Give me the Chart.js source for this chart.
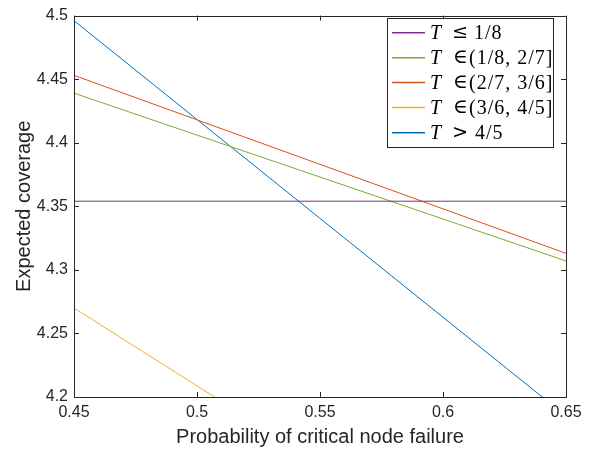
<!DOCTYPE html>
<html>
<head>
<meta charset="utf-8">
<script src="https://cdn.jsdelivr.net/npm/chart.js@4"></script>
<style>
  html,body{margin:0;padding:0;background:#fff;}
  #wrap{width:595px;height:450px;position:relative;}
</style>
</head>
<body>
<div id="wrap"><canvas id="c" width="595" height="450"></canvas></div>
<script>
// data
const xValues = [0.45, 0.65];
const seriesLabels = ['T ≤ 1/8', 'T ∈ (1/8, 2/7]', 'T ∈ (2/7, 3/6]', 'T ∈ (3/6, 4/5]', 'T > 4/5'];
const series1 = [4.354, 4.354];
const series2 = [4.439, 4.307];
const series3 = [4.453, 4.313];
const series4 = [4.270, 4.025];
const series5 = [4.496, 4.185];
const xTicks = [0.45, 0.5, 0.55, 0.6, 0.65];
const yTicks = [4.2, 4.25, 4.3, 4.35, 4.4, 4.45, 4.5];

const colors = ['#7E2F8E', '#77AC30', '#D95319', '#EDB120', '#0072BD'];
const allSeries = [series1, series2, series3, series4, series5];
const ink = '#262626';
const sans = '"Liberation Sans", Arial, Helvetica, sans-serif';
const serif = '"Liberation Serif", "Times New Roman", serif';

const datasets = allSeries.map((s,i)=>({
  label: seriesLabels[i],
  data: s.map((v,j)=>({x:xValues[j], y:v})),
  borderColor: colors[i],
  borderWidth: 1,
  pointRadius: 0,
  fill: false,
  tension: 0
}));

// draw text so its ink starts at x
function inkText(ctx, txt, x, y){
  const m=ctx.measureText(txt);
  ctx.fillText(txt, x + m.actualBoundingBoxLeft, y);
}

// relation symbol sized to a given ink width, centred on cx
function relText(ctx, txt, cx, y, inkW){
  ctx.font='20px "DejaVu Serif", serif';
  let m=ctx.measureText(txt);
  const size=20*inkW/Math.max(1, m.actualBoundingBoxLeft+m.actualBoundingBoxRight);
  ctx.font=size.toFixed(1)+'px "DejaVu Serif", serif';
  m=ctx.measureText(txt);
  const w=m.actualBoundingBoxLeft+m.actualBoundingBoxRight;
  ctx.fillText(txt, cx - w/2 + m.actualBoundingBoxLeft, y);
}

// box, inward ticks and legend, MATLAB style
const boxPlugin = {
  id:'box',
  afterDraw(chart){
    const ctx=chart.ctx, a=chart.chartArea;
    const xs=chart.scales.x, ys=chart.scales.y;
    ctx.save();
    ctx.strokeStyle=ink; ctx.lineWidth=1;
    ctx.strokeRect(Math.round(a.left)+0.5, Math.round(a.top)+0.5, Math.round(a.right-a.left), Math.round(a.bottom-a.top));
    ctx.beginPath();
    xTicks.forEach(v=>{
      const px=Math.round(xs.getPixelForValue(v))+0.5;
      ctx.moveTo(px,a.bottom); ctx.lineTo(px,a.bottom-5);
      ctx.moveTo(px,a.top); ctx.lineTo(px,a.top+5);
    });
    yTicks.forEach(v=>{
      const py=Math.round(ys.getPixelForValue(v))+0.5;
      ctx.moveTo(a.left,py); ctx.lineTo(a.left+5,py);
      ctx.moveTo(a.right,py); ctx.lineTo(a.right-5,py);
    });
    ctx.stroke();

    // legend (latex-ish: italic T, relation, rest)
    const lx=387, ly=18, lw=166, lh=129;
    ctx.fillStyle='#fff';
    ctx.fillRect(lx,ly,lw,lh);
    ctx.strokeStyle=ink;
    ctx.strokeRect(lx+0.5,ly+0.5,lw,lh);
    const rowY=[32.7,57.7,82.5,107.5,132.7];
    ctx.textAlign='left';
    ctx.textBaseline='alphabetic';
    seriesLabels.forEach((lab,i)=>{
      const y=rowY[i];
      const parts=lab.split(' ');
      ctx.strokeStyle=colors[i]; ctx.lineWidth=1.5;
      ctx.beginPath(); ctx.moveTo(392,y); ctx.lineTo(425,y); ctx.stroke();
      ctx.fillStyle='#000';
      const base=y+6.5;
      ctx.font='italic 20px '+serif;
      inkText(ctx, parts[0], 431, base);
      relText(ctx, parts[1], 460.5, base-1, parts[1]==='∈' ? 11 : 12.5);
      ctx.font='20px '+serif;
      const rest=parts.slice(2).join(' ');
      ctx.letterSpacing='1px';
      inkText(ctx, rest, rest[0]==='(' ? 469 : 475, base);
      ctx.letterSpacing='0px';
    });
    ctx.restore();
  }
};

new Chart(document.getElementById('c'),{
  type:'line',
  data:{datasets},
  options:{
    responsive:false,
    animation:false,
    layout:{padding:{top:9,right:29,left:0,bottom:0}},
    plugins:{legend:{display:false},tooltip:{enabled:false}},
    scales:{
      x:{
        type:'linear', min:0.45, max:0.65,
        afterBuildTicks:s=>{ s.ticks=xTicks.map(v=>({value:v})); },
        afterFit:s=>{ s.height=53; },
        grid:{display:false,drawTicks:false},
        border:{display:false},
        ticks:{color:ink,font:{family:sans,size:16},padding:6,maxRotation:0,
          callback:v=>String(parseFloat(v.toFixed(2)))},
        title:{display:true,text:'Probability of critical node failure',color:ink,
          font:{family:sans,size:20},padding:{top:0,bottom:1}}
      },
      y:{
        type:'linear', min:4.2, max:4.5,
        afterBuildTicks:s=>{ s.ticks=yTicks.map(v=>({value:v})); },
        afterFit:s=>{ s.width=74; },
        grid:{display:false,drawTicks:false},
        border:{display:false},
        ticks:{color:ink,font:{family:sans,size:16},padding:6,
          callback:v=>String(parseFloat(v.toFixed(2)))},
        title:{display:true,text:'Expected coverage',color:ink,
          font:{family:sans,size:20},padding:{top:12,bottom:0}}
      }
    }
  },
  plugins:[boxPlugin]
});
</script>
</body>
</html>
